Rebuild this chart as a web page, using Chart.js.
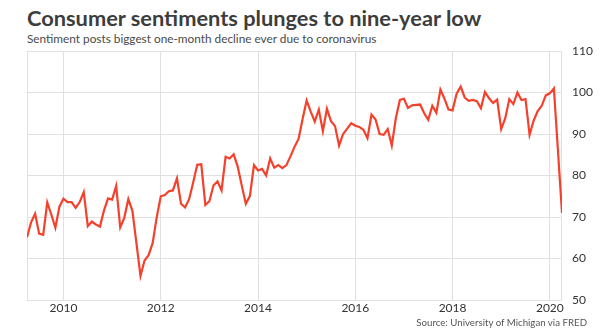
<!DOCTYPE html>
<html lang="en">
<head>
    <meta charset="UTF-8">
    <title>Consumer sentiments plunges to nine-year low</title>
    <script src="https://cdn.jsdelivr.net/npm/chart.js"></script>
    <style>
        body { margin: 0; background: #fff; font-family: Lato, "Open Sans", sans-serif; }
        .wrap { position: relative; width: 600px; height: 333px; overflow: hidden; }
        .title { position: absolute; left: 27px; top: 7px; font-size: 21.8px; line-height: 22px; font-weight: bold; color: #3d3d3d; white-space: nowrap; }
        .subtitle { position: absolute; left: 27px; top: 33px; font-size: 11.8px; line-height: 12.5px; color: #4a4a4a; white-space: nowrap; }
        .source { position: absolute; right: 13px; top: 317px; font-size: 9.7px; line-height: 10px; color: #555; white-space: nowrap; }
        canvas { position: absolute; left: 0; top: 0; }
    </style>
</head>
<body>
<div class="wrap">
    <div class="title">Consumer sentiments plunges to nine-year low</div>
    <div class="subtitle">Sentiment posts biggest one-month decline ever due to coronavirus</div>
    <canvas id="chart" width="600" height="333"></canvas>
    <div class="source">Source: University of Michigan via FRED</div>
</div>

<script>
    // University of Michigan consumer sentiment, monthly
    const s2009 = [65.1, 68.7, 70.8, 66.0, 65.7, 73.5, 70.6, 67.4, 72.5]; // Apr-Dec
    const s2010 = [74.4, 73.6, 73.6, 72.2, 73.6, 76.0, 67.8, 68.9, 68.2, 67.7, 71.6, 74.5];
    const s2011 = [74.2, 77.5, 67.5, 69.8, 74.3, 71.5, 63.7, 55.8, 59.5, 60.8, 63.7, 69.9];
    const s2012 = [75.0, 75.3, 76.2, 76.4, 79.3, 73.2, 72.3, 74.3, 78.3, 82.6, 82.7, 72.9];
    const s2013 = [73.8, 77.6, 78.6, 76.4, 84.5, 84.1, 85.1, 82.1, 77.5, 73.2, 75.1, 82.5];
    const s2014 = [81.2, 81.6, 80.0, 84.1, 81.9, 82.5, 81.8, 82.5, 84.6, 86.9, 88.8, 93.6];
    const s2015 = [98.1, 95.4, 93.0, 95.9, 90.7, 96.1, 93.1, 91.9, 87.2, 90.0, 91.3, 92.6];
    const s2016 = [92.0, 91.7, 91.0, 89.0, 94.7, 93.5, 90.0, 89.8, 91.2, 87.2, 93.8, 98.2];
    const s2017 = [98.5, 96.3, 96.9, 97.0, 97.1, 95.0, 93.4, 96.8, 95.1, 100.7, 98.5, 95.9];
    const s2018 = [95.7, 99.7, 101.4, 98.8, 98.0, 98.2, 97.9, 96.2, 100.1, 98.6, 97.5, 98.3];
    const s2019 = [91.2, 93.8, 98.4, 97.2, 100.0, 98.2, 98.4, 89.8, 93.2, 95.5, 96.8, 99.3];
    const s2020 = [99.8, 101.0, null, 71.0]; // Jan-Apr, March not plotted

    const xTicks = [2010, 2012, 2014, 2016, 2018, 2020];
    const yTicks = [50, 60, 70, 80, 90, 100, 110];

    const years = [
        [2009, 4, s2009], [2010, 1, s2010], [2011, 1, s2011], [2012, 1, s2012],
        [2013, 1, s2013], [2014, 1, s2014], [2015, 1, s2015], [2016, 1, s2016],
        [2017, 1, s2017], [2018, 1, s2018], [2019, 1, s2019], [2020, 1, s2020]
    ];
    let points = [];
    years.forEach(([yr, m0, vals]) => {
        vals.forEach((v, i) => points.push({ x: yr + (m0 - 1 + i) / 12, y: v }));
    });

    const gridColor = "#e0e0e0";

    // frame round the plot area
    const frame = {
        id: "frame",
        beforeDatasetsDraw(chart) {
            const a = chart.chartArea, ctx = chart.ctx;
            ctx.save();
            ctx.strokeStyle = gridColor;
            ctx.lineWidth = 1;
            ctx.strokeRect(a.left + 0.5, a.top + 0.5, a.right - a.left - 1, a.bottom - a.top);
            ctx.restore();
        }
    };

    new Chart(document.getElementById("chart"), {
        type: "line",
        data: {
            datasets: [{
                data: points,
                borderColor: "#f5402c",
                borderWidth: 2.2,
                pointRadius: 0,
                tension: 0,
                spanGaps: true
            }]
        },
        options: {
            responsive: false,
            animation: false,
            layout: { padding: { left: 27, top: 51, right: 0, bottom: 0 } },
            plugins: { legend: { display: false }, tooltip: { enabled: false } },
            scales: {
                x: {
                    type: "linear",
                    min: 2009.25,
                    max: 2020.25,
                    afterBuildTicks: s => { s.ticks = xTicks.map(v => ({ value: v })); },
                    afterFit: s => { s.height = 33; },
                    grid: { color: gridColor, drawTicks: false },
                    border: { display: false },
                    ticks: {
                        padding: 1,
                        maxRotation: 0,
                        color: "#333",
                        font: { family: "Lato", size: 12 },
                        callback: v => String(v)
                    }
                },
                y: {
                    position: "right",
                    min: 50,
                    max: 110,
                    afterBuildTicks: s => { s.ticks = yTicks.map(v => ({ value: v })); },
                    afterFit: s => { s.width = 38; },
                    grid: { color: gridColor, drawTicks: false },
                    border: { display: false },
                    ticks: {
                        padding: 10,
                        color: "#333",
                        font: { family: "Lato", size: 12 }
                    }
                }
            }
        },
        plugins: [frame]
    });
</script>
</body>
</html>
